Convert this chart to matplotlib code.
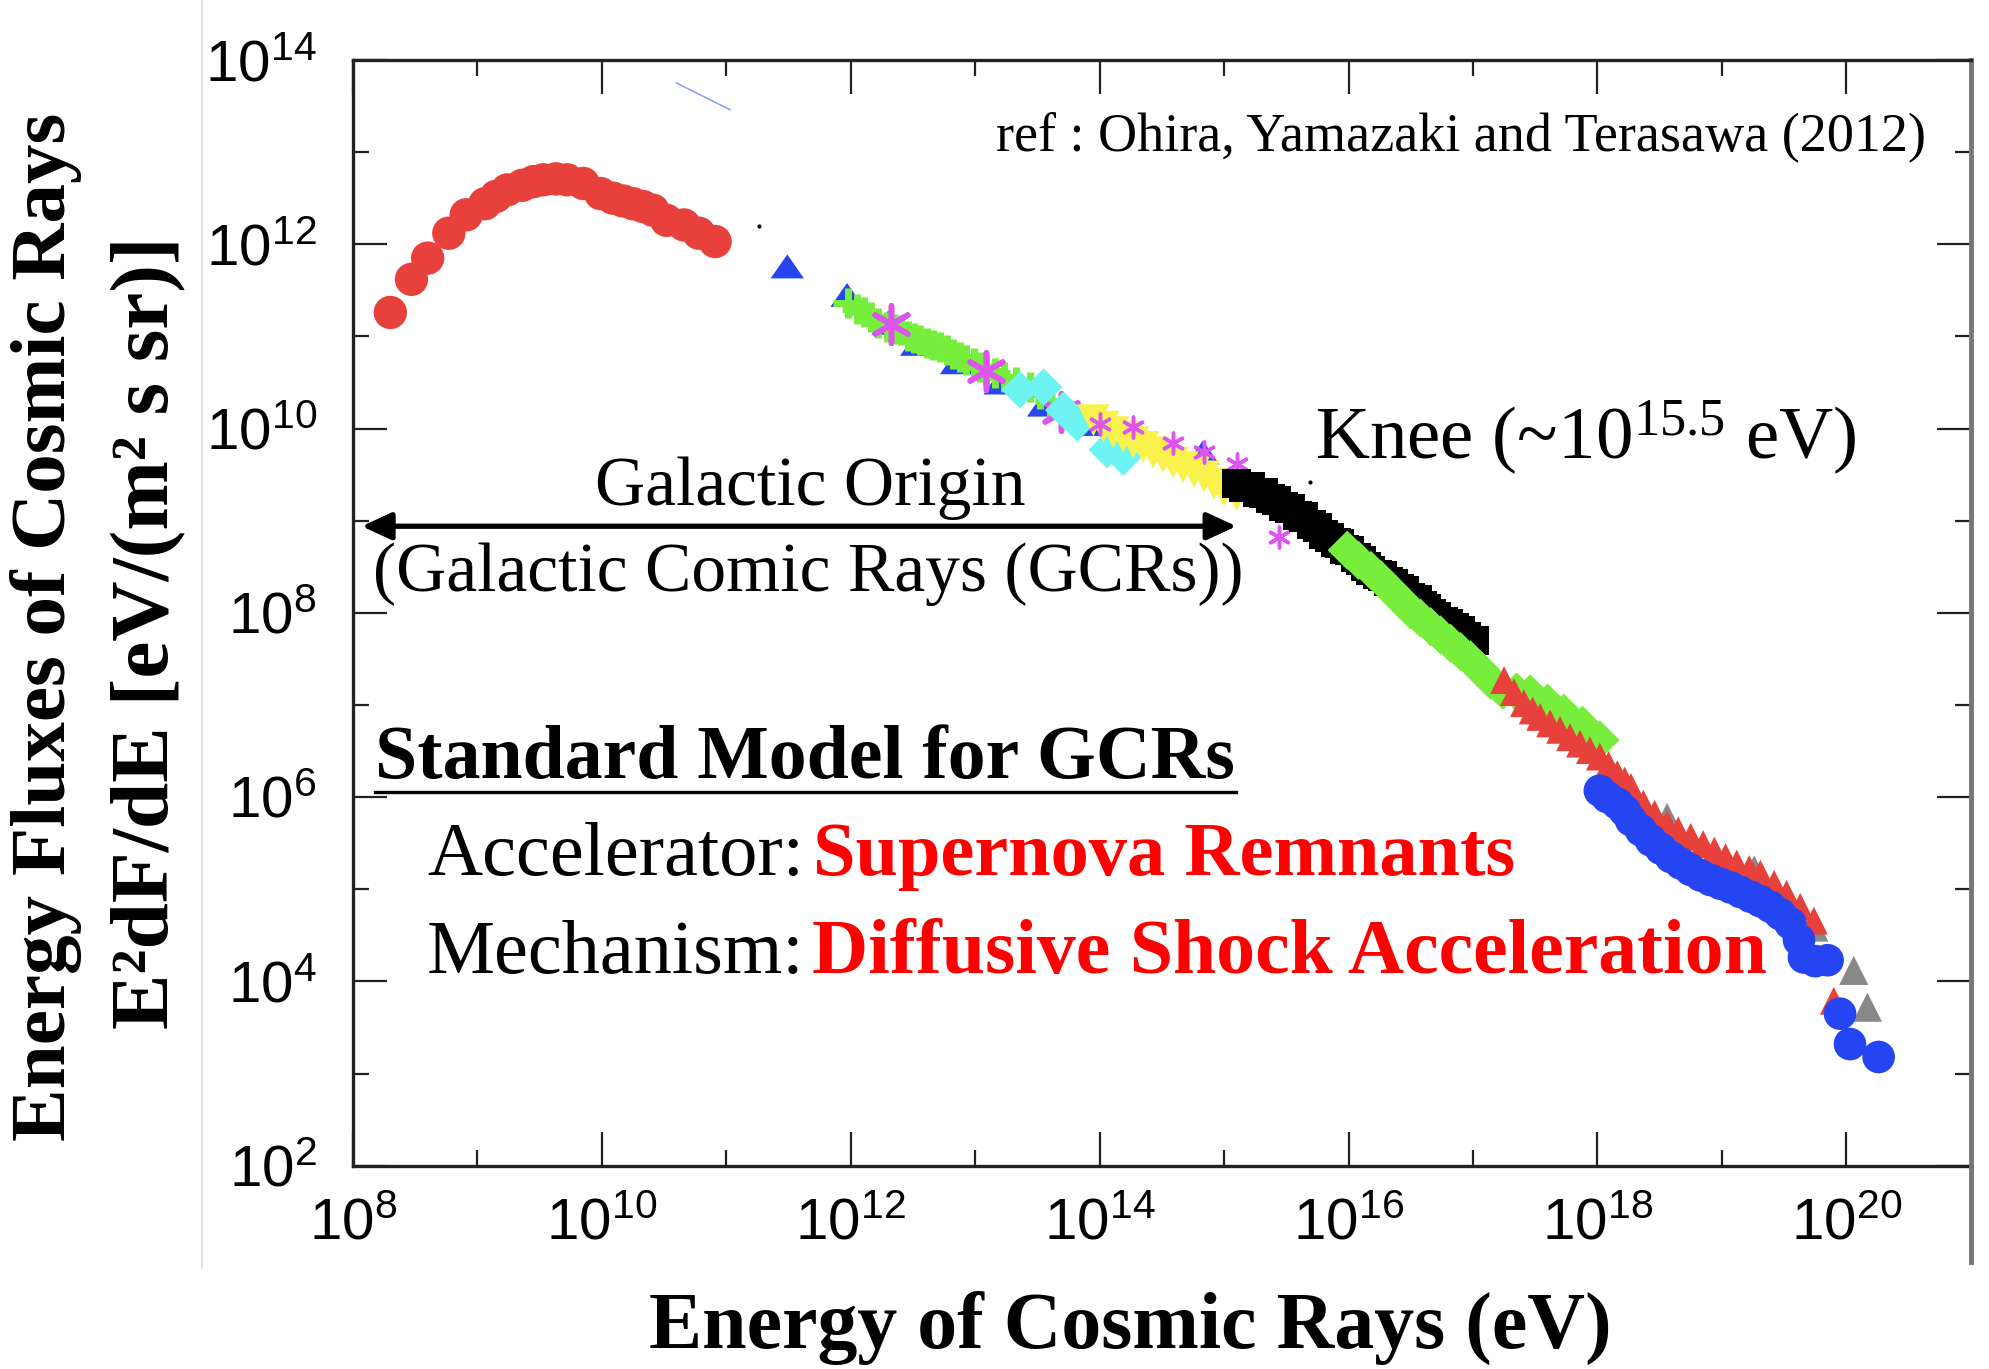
import numpy as np
import matplotlib
matplotlib.use('Agg')
import matplotlib.pyplot as plt
from matplotlib.lines import Line2D
from matplotlib.ticker import FixedLocator, FuncFormatter, NullFormatter

# ---------------- data (log10 E [eV], log10 E^2 dF/dE) ----------------
red_circ_lx = [8.30, 8.47, 8.60, 8.77, 8.91, 9.06, 9.15, 9.24, 9.36, 9.45, 9.53, 9.63, 9.72,
               9.85, 9.99, 10.09, 10.17, 10.25, 10.33, 10.41, 10.52, 10.66, 10.78, 10.91]
red_circ_ly = [11.26, 11.62, 11.85, 12.12, 12.32, 12.44, 12.52, 12.59, 12.64, 12.68, 12.70, 12.71, 12.70,
               12.66, 12.55, 12.50, 12.47, 12.44, 12.41, 12.37, 12.26, 12.21, 12.12, 12.03]

blue_tri_lx = [11.49, 11.97, 12.30, 12.53, 12.85, 13.20, 13.55, 13.98, 14.27, 14.83]
blue_tri_ly = [11.76, 11.45, 11.15, 10.92, 10.72, 10.50, 10.26, 10.05, 9.95, 9.74]

green_cross_lx = [11.98, 12.05, 12.11, 12.16, 12.22, 12.29, 12.35, 12.40, 12.46, 12.51,
                  12.56, 12.61, 12.66, 12.72, 12.77, 12.82, 12.88, 12.93, 12.99, 13.04,
                  13.09, 13.16, 13.23, 13.33, 13.44, 13.52, 13.60]
green_cross_ly = [11.36, 11.30, 11.26, 11.21, 11.15, 11.10, 11.08, 11.07, 11.01, 10.98,
                  10.96, 10.93, 10.91, 10.88, 10.85, 10.81, 10.78, 10.74, 10.71, 10.67,
                  10.63, 10.60, 10.56, 10.51, 10.45, 10.38, 10.30]

magenta_big_lx = [12.32, 13.09, 13.69]
magenta_big_ly = [11.14, 10.63, 10.18]

magenta_small_lx = [14.00, 14.27, 14.59, 14.84, 15.10, 15.44]
magenta_small_ly = [10.05, 10.02, 9.84, 9.75, 9.62, 8.82]

cyan_dia_lx = [13.36, 13.55, 13.71, 13.82, 14.06, 14.19]
cyan_dia_ly = [10.42, 10.45, 10.20, 10.06, 9.77, 9.69]

yellow_lx = [13.95, 14.03, 14.11, 14.19, 14.27, 14.35, 14.43, 14.51, 14.59, 14.67,
             14.76, 14.84, 14.92, 15.00, 15.10]
yellow_ly = [10.09, 10.02, 9.96, 9.91, 9.85, 9.80, 9.74, 9.69, 9.63, 9.58,
             9.53, 9.48, 9.40, 9.33, 9.28]

black_sq_lx = [15.10, 15.16, 15.21, 15.27, 15.32, 15.37, 15.42, 15.48, 15.53, 15.59,
               15.64, 15.70, 15.75, 15.80, 15.85, 15.90, 15.93, 15.97, 16.01, 16.06,
               16.10, 16.14, 16.18, 16.23, 16.27, 16.32, 16.36, 16.41, 16.45, 16.50,
               16.55, 16.59, 16.63, 16.67, 16.71, 16.76, 16.80, 16.85, 16.90, 16.95, 17.01]
black_sq_ly = [9.40, 9.36, 9.37, 9.31, 9.30, 9.24, 9.22, 9.15, 9.13, 9.06,
               9.04, 8.96, 8.93, 8.85, 8.82, 8.76, 8.75, 8.69, 8.68, 8.60,
               8.57, 8.50, 8.46, 8.42, 8.40, 8.34, 8.32, 8.26, 8.24, 8.17,
               8.14, 8.08, 8.05, 7.99, 7.96, 7.90, 7.88, 7.84, 7.81, 7.74, 7.70]

green_dia_lx = [15.99, 16.08, 16.18, 16.26, 16.34, 16.42, 16.50, 16.58, 16.66, 16.74,
                16.82, 16.90, 16.98, 17.06, 17.14, 17.24, 17.35, 17.46, 17.60, 17.73,
                17.88, 18.02]
green_dia_ly = [8.68, 8.57, 8.46, 8.36, 8.25, 8.14, 8.03, 7.94, 7.85, 7.76,
                7.67, 7.58, 7.49, 7.38, 7.27, 7.16, 7.14, 7.12, 7.02, 6.91,
                6.78, 6.62]

red_tri_lx = [17.25, 17.33, 17.41, 17.48, 17.54, 17.62, 17.70, 17.78, 17.86, 17.94,
              18.02, 18.09, 18.16, 18.22, 18.27, 18.37, 18.46, 18.56, 18.65, 18.75,
              18.85, 18.94, 19.03, 19.12, 19.22, 19.31, 19.42, 19.52, 19.63, 19.74, 19.90]
red_tri_ly = [7.27, 7.14, 7.02, 6.94, 6.87, 6.80, 6.73, 6.65, 6.58, 6.51,
              6.44, 6.35, 6.25, 6.18, 6.11, 5.93, 5.82, 5.71, 5.64, 5.57,
              5.49, 5.42, 5.35, 5.28, 5.22, 5.17, 5.06, 4.95, 4.81, 4.66, 3.79]

gray_tri_lx = [18.56, 19.26, 19.74, 20.06, 20.17]
gray_tri_ly = [5.78, 5.21, 4.59, 4.12, 3.72]

blue_circ_lx = [18.02, 18.08, 18.16, 18.22, 18.27, 18.35, 18.43, 18.51, 18.59, 18.67,
                18.75, 18.83, 18.91, 18.99, 19.07, 19.15, 19.23, 19.31, 19.39, 19.47,
                19.55, 19.62, 19.66, 19.75, 19.85, 19.95, 20.03, 20.26]
blue_circ_ly = [6.07, 6.00, 5.93, 5.85, 5.75, 5.64, 5.53, 5.44, 5.35, 5.28,
                5.21, 5.15, 5.10, 5.06, 5.02, 4.97, 4.92, 4.87, 4.81, 4.73,
                4.63, 4.45, 4.26, 4.22, 4.23, 3.65, 3.32, 3.18]

stray_lx = [11.26, 15.69]
stray_ly = [12.20, 9.42]

faint_line_lx = [10.60, 11.03]
faint_line_ly = [13.75, 13.46]

x_major_exp = [8, 10, 12, 14, 16, 18, 20]
x_minor_exp = [9, 11, 13, 15, 17, 19]
y_major_exp = [2, 4, 6, 8, 10, 12, 14]
y_minor_exp = [3, 5, 7, 9, 11, 13]

arrow_lx = [8.07, 15.10]
arrow_ly = 8.94

def P(a):
    return 10.0 ** np.asarray(a, dtype=float)

# ---------------- style ----------------
plt.rcParams['mathtext.fontset'] = 'custom'
plt.rcParams['mathtext.rm'] = 'Liberation Serif'
plt.rcParams['mathtext.sf'] = 'Liberation Sans'
plt.rcParams['mathtext.it'] = 'Liberation Serif:italic'
plt.rcParams['mathtext.bf'] = 'Liberation Serif:bold'
plt.rcParams['font.family'] = ['Liberation Serif', 'DejaVu Serif']

W, H = 1989, 1369
fig = plt.figure(figsize=(W / 100, H / 100), dpi=100)
fig.patch.set_facecolor('white')

def fx(px):
    return px / W

def fy(py):
    return 1 - py / H

ax = fig.add_axes([fx(353), fy(1165.7), (1970.7 - 353) / W, (1165.7 - 60) / H])
ax.set_xscale('log')
ax.set_yscale('log')
ax.set_xlim(1e8, 1e21)
ax.set_ylim(1e2, 1e14)

ax.xaxis.set_major_locator(FixedLocator(P(x_major_exp)))
ax.xaxis.set_minor_locator(FixedLocator(P(x_minor_exp)))
ax.yaxis.set_major_locator(FixedLocator(P(y_major_exp)))
ax.yaxis.set_minor_locator(FixedLocator(P(y_minor_exp)))
fmt = FuncFormatter(lambda v, p: r'$\mathsf{10^{%d}}$' % int(round(np.log10(v))))
ax.xaxis.set_major_formatter(fmt)
ax.yaxis.set_major_formatter(fmt)
ax.xaxis.set_minor_formatter(NullFormatter())
ax.yaxis.set_minor_formatter(NullFormatter())

ax.tick_params(which='both', direction='in', top=True, right=True, color='#222222', width=1.6)
ax.tick_params(which='major', length=24.5, labelsize=42)
ax.tick_params(which='minor', length=11.5)
ax.tick_params(axis='x', which='major', pad=23)
ax.tick_params(axis='y', which='major', pad=26)
for s in ['left', 'bottom', 'top']:
    ax.spines[s].set_linewidth(2.4)
    ax.spines[s].set_color('#222222')
ax.spines['right'].set_linewidth(3.5)
ax.spines['right'].set_color('#777777')

# ---------------- data marks ----------------
ax.plot(P(faint_line_lx), P(faint_line_ly), color='#3050ff', lw=1.2, alpha=0.55, zorder=2)

wide_tri = [(-1, -0.72), (1, -0.72), (0, 0.72), (-1, -0.72)]

ax.scatter(P(red_circ_lx), P(red_circ_ly), s=24 ** 2, marker='o', color='#e8403a',
           edgecolors='none', zorder=3)
ax.scatter(P(blue_tri_lx), P(blue_tri_ly), s=24 ** 2, marker=wide_tri, color='#2646f0',
           edgecolors='none', zorder=3)
ax.scatter(P(green_cross_lx), P(green_cross_ly), s=21 ** 2, marker='+', color='#77ee3c',
           linewidths=5, zorder=4)
ax.scatter(P(magenta_big_lx), P(magenta_big_ly), s=27 ** 2, marker=(6, 2, 0), color='#dd55ee',
           linewidths=4, zorder=5)
ax.scatter(P(cyan_dia_lx), P(cyan_dia_ly), s=19 ** 2, marker='D', color='#6ef3f3',
           edgecolors='none', zorder=5)
ax.scatter(P(yellow_lx), P(yellow_ly), s=23 ** 2, marker='v', color='#f8f24a',
           edgecolors='none', zorder=5)
ax.scatter(P(magenta_small_lx), P(magenta_small_ly), s=15 ** 2, marker=(6, 2, 0), color='#dd55ee',
           linewidths=2.5, zorder=6)
ax.scatter(P(black_sq_lx), P(black_sq_ly), s=21 ** 2, marker='s', color='#000000',
           edgecolors='none', zorder=6)
ax.scatter(P(green_dia_lx), P(green_dia_ly), s=20 ** 2, marker='D', color='#77ee3c',
           edgecolors='none', zorder=7)
ax.scatter(P(gray_tri_lx), P(gray_tri_ly), s=21 ** 2, marker='^', color='#888888',
           edgecolors='none', zorder=7)
ax.scatter(P(red_tri_lx), P(red_tri_ly), s=20 ** 2, marker='^', color='#e8403a',
           edgecolors='none', zorder=8)
ax.scatter(P(blue_circ_lx), P(blue_circ_ly), s=23.5 ** 2, marker='o', color='#2545f2',
           edgecolors='none', zorder=9)
ax.scatter(P(stray_lx), P(stray_ly), s=4, marker='o', color='#000000', zorder=9)

# ---------------- arrow ----------------
ax.annotate('', xy=(P(arrow_lx[1]), P(arrow_ly)), xytext=(P(arrow_lx[0]), P(arrow_ly)),
            arrowprops=dict(arrowstyle='<|-|>,head_length=1.0,head_width=0.46',
                            mutation_scale=18, lw=3.8, color='black',
                            shrinkA=0, shrinkB=0), zorder=10)

# ---------------- texts ----------------
fig.text(fx(996), fy(150), 'ref : Ohira, Yamazaki and Terasawa (2012)', fontsize=39,
         ha='left', va='baseline')
fig.text(fx(1315), fy(459), r'Knee (~10$^{15.5}$ eV)', fontsize=54, ha='left', va='baseline')
fig.text(fx(810), fy(505), 'Galactic Origin', fontsize=50, ha='center', va='baseline')
fig.text(fx(808), fy(591), '(Galactic Comic Rays (GCRs))', fontsize=50, ha='center', va='baseline')

fig.text(fx(375), fy(778), 'Standard Model for GCRs', fontsize=54.5, fontweight='bold',
         ha='left', va='baseline')
fig.add_artist(Line2D([fx(375), fx(1236)], [fy(792), fy(792)], color='black', lw=2.4))

fig.text(fx(427), fy(875), 'Accelerator:', fontsize=55, ha='left', va='baseline')
fig.text(fx(813), fy(875), 'Supernova Remnants', fontsize=55, fontweight='bold',
         color='#ff0000', ha='left', va='baseline')
fig.text(fx(427), fy(973), 'Mechanism:', fontsize=55, ha='left', va='baseline')
fig.text(fx(812), fy(973), 'Diffusive Shock Acceleration', fontsize=56, fontweight='bold',
         color='#ff0000', ha='left', va='baseline')

# axis labels
fig.text(fx(1130), fy(1348), 'Energy of Cosmic Rays (eV)', fontsize=57.5, fontweight='bold',
         ha='center', va='baseline')
fig.text(fx(46), fy(627), 'Energy Fluxes of Cosmic Rays', fontsize=57, fontweight='bold',
         rotation=90, ha='center', va='center')
fig.text(fx(149), fy(633), 'E\u00b2dF/dE [eV/(m\u00b2 s sr)]', fontsize=60, fontweight='bold',
         rotation=90, ha='center', va='center')

# embedded-picture border lines
fig.add_artist(Line2D([fx(202), fx(202)], [fy(0), fy(1268)], color='#d8d8d8', lw=1.2))
fig.add_artist(Line2D([fx(1971), fx(1971)], [fy(1166), fy(1262)], color='#777777', lw=3.5))

fig.savefig('out.png', dpi=100, facecolor='white')
